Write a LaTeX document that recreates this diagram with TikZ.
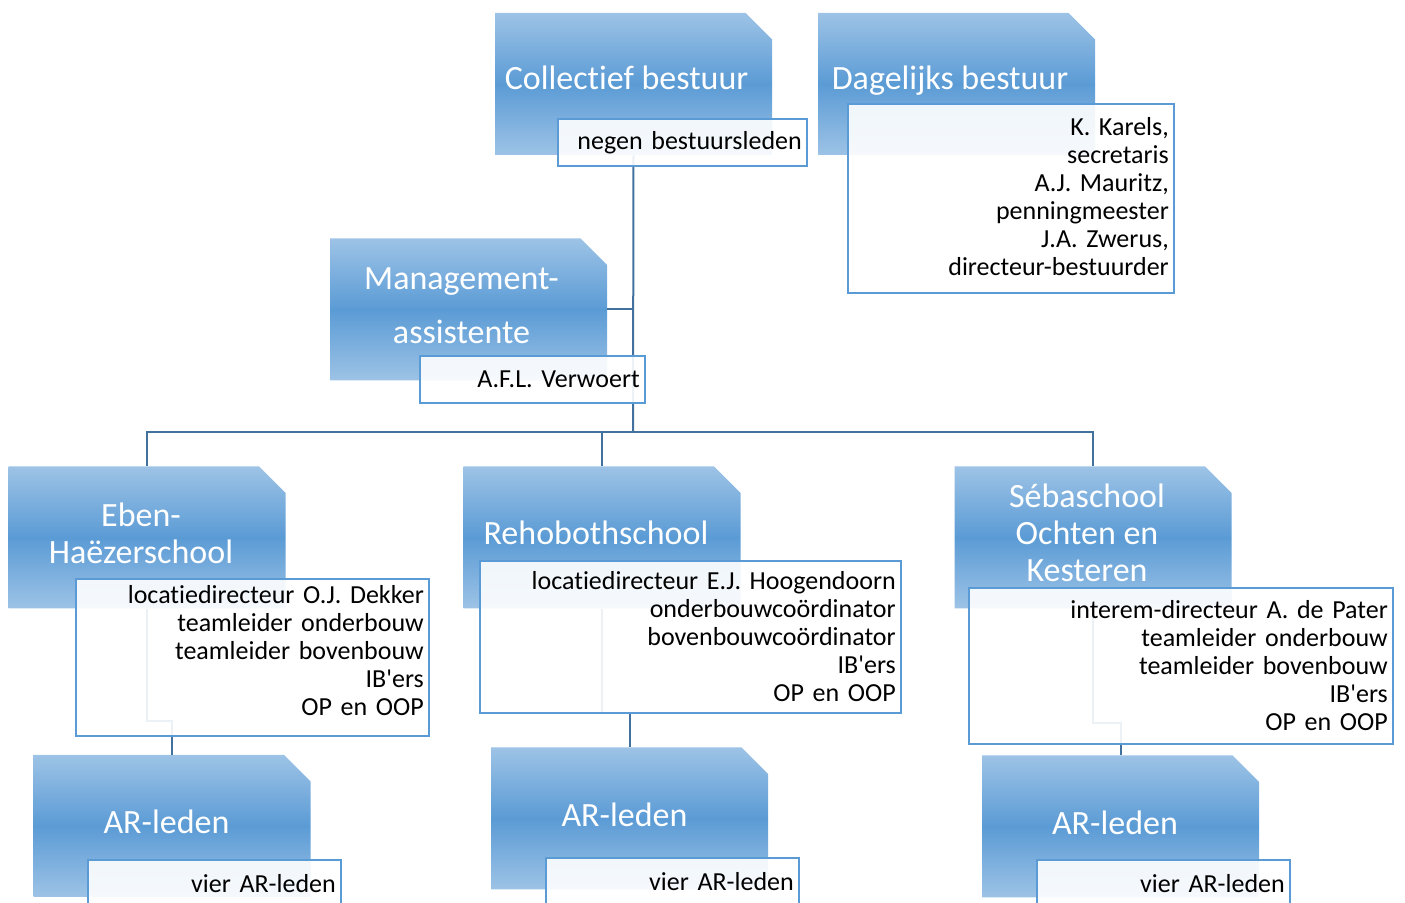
\documentclass[tikz,border=0pt]{standalone}
\usepackage{fontspec}
\setmainfont[Ligatures={TeX,NoCommon}]{Carlito}
\usetikzlibrary{shapes.misc}
\definecolor{orgLight}{HTML}{9DC3E6}
\definecolor{orgMid}{HTML}{5B9BD5}
\definecolor{orgEdge}{HTML}{5B9BD5}
\definecolor{orgLine}{HTML}{41719C}
\newcommand\detailfont{\fontsize{13}{14}\selectfont\frenchspacing\spaceskip=0.65\fontdimen2\font}
\tikzset{
  mainbox/.style={chamfered rectangle, chamfered rectangle corners=north east,
    chamfered rectangle xsep=10pt, chamfered rectangle angle=45,
    text width=110pt, text height=20pt, text depth=10pt,
    minimum width=138.5pt, minimum height=71pt, inner sep=0pt,
    top color=orgLight, bottom color=orgLight, middle color=orgMid},
  maintext/.style={anchor=base, inner sep=0pt, text=white, align=center,
    font=\fontsize{17}{18.5}\selectfont},
  detailbox/.style={draw=orgEdge, line width=0.8pt, fill=white, fill opacity=0.9,
    text opacity=1, align=right, inner xsep=2.6pt, inner ysep=0pt, text=black,
    font=\detailfont},
  orgline/.style={draw=orgLine, line width=1pt}
}

\begin{document}
\begin{tikzpicture}[x=0.5pt,y=-0.5pt]
   \useasboundingbox (0,0) rectangle (1405,903);
   \clip (0,0) rectangle (1405,903);
   % bestuur
   \node[mainbox] (cb) at (633.5,84) {};
   \node[mainbox] (db) at (956.5,84) {};
   \node[mainbox] (mgmt) at (468.5,309.5) {};
   % scholen
   \node[mainbox] (eben) at (147,537.5) {};
   \node[mainbox] (reho) at (602,537.5) {};
   \node[mainbox] (seba) at (1093,537.5) {};
   % AR
   \node[mainbox] (ar1) at (172,826) {};
   \node[mainbox] (ar2) at (629.5,818.5) {};
   \node[mainbox] (ar3) at (1120.5,826.5) {};
   % titels
   \node[maintext, xshift=-3.5pt, yshift=-3pt] (cbtext) at (cb.center) {Collectief bestuur};
   \node[maintext, xshift=-3.25pt, yshift=-3pt] (dbtext) at (db.center) {Dagelijks bestuur};
   \node[maintext, xshift=-3.5pt, yshift=-17pt] (mgmttext) at (mgmt.center) {Management-\\[8.5pt]assistente};
   \node[maintext, xshift=-3pt, yshift=-13.25pt] (ebentext) at (eben.center) {Eben-\\Haëzerschool};
   \node[maintext, xshift=-3pt, yshift=-3.75pt] (rehotext) at (reho.center) {Rehobothschool};
   \node[maintext, xshift=-3pt, yshift=-22.25pt] (sebatext) at (seba.center) {Sébaschool\\Ochten en\\Kesteren};
   \node[maintext, xshift=-2.75pt, yshift=-4pt] (ar1text) at (ar1.center) {AR-leden};
   \node[maintext, xshift=-2.5pt, yshift=-4pt] (ar2text) at (ar2.center) {AR-leden};
   \node[maintext, xshift=-2.75pt, yshift=-4pt] (ar3text) at (ar3.center) {AR-leden};
   % lijnen
   \coordinate (bus) at (633,432);
   \draw[orgline] (cb.south) -- (bus);
   \draw[orgline] (mgmt.east) -- (mgmt.east -| bus);
   \draw[orgline] (eben.north) |- (bus) -| (seba.north);
   \draw[orgline] (reho.north) -- (reho.north |- bus);
   \draw[orgline] (eben.south) -- ++(0,112) -| (ar1.north);
   \draw[orgline] (reho.south) -- ++(0,104) -| (ar2.north);
   \draw[orgline] (seba.south) -- ++(0,114) -| (ar3.north);
   % namen
   \node[detailbox, text width=119.3pt, minimum height=23.5pt] (cbnames) at (682.5,142.5) {negen bestuursleden};
   \node[detailbox, text width=157.8pt, minimum height=94.5pt, text depth=72pt] (dbnames) at (1011,198.5)
     {K. Karels,\\secretaris\\A.J. Mauritz,\\penningmeester\\J.A. Zwerus,\\directeur-bestuurder};
   \node[detailbox, text width=107.3pt, minimum height=23.5pt] (mgmtnames) at (532.5,379.5) {A.F.L. Verwoert};
   \node[detailbox, text width=171.3pt, minimum height=78.5pt, text depth=63pt] (ebennames) at (252.5,657.5)
     {locatiedirecteur O.J. Dekker\\teamleider onderbouw\\teamleider bovenbouw\\IB\textquotesingle ers\\OP en OOP};
   \node[detailbox, text width=205.3pt, minimum height=76pt] (rehonames) at (690.5,637)
     {locatiedirecteur E.J. Hoogendoorn\\onderbouwcoördinator\\bovenbouwcoördinator\\IB\textquotesingle ers\\OP en OOP};
   \node[detailbox, text width=206.8pt, minimum height=78pt] (sebanames) at (1181,666)
     {interem-directeur A. de Pater\\teamleider onderbouw\\teamleider bovenbouw\\IB\textquotesingle ers\\OP en OOP};
   \node[detailbox, text width=121.3pt, minimum height=23.5pt] (ar1names) at (214.5,883.5) {vier AR-leden};
   \node[detailbox, text width=121.3pt, minimum height=23.5pt] (ar2names) at (672.5,881.5) {vier AR-leden};
   \node[detailbox, text width=121.3pt, minimum height=23.5pt] (ar3names) at (1163.5,883.5) {vier AR-leden};
\end{tikzpicture}
\end{document}
